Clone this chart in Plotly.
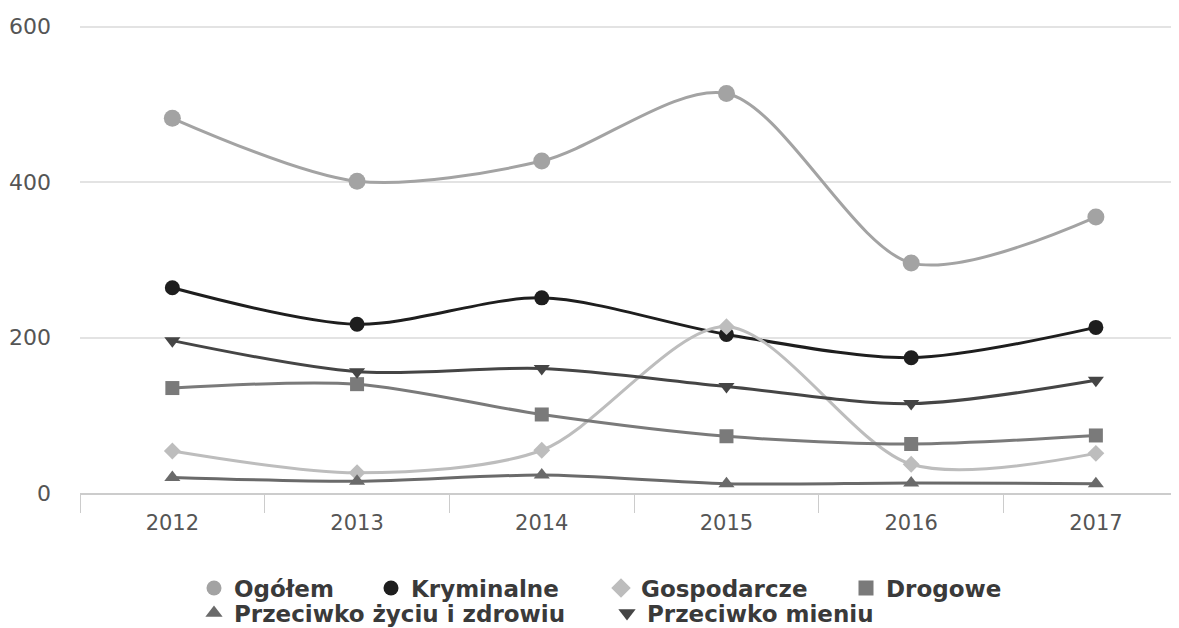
import plotly.graph_objects as go

years = ["2012", "2013", "2014", "2015", "2016", "2017"]
ogolem = [482, 401, 427, 514, 296, 355]
kryminalne = [264, 217, 251, 204, 174, 213]
gospodarcze = [54, 26, 55, 214, 37, 51]
drogowe = [135, 140, 101, 73, 63, 74]
zycie = [20, 15, 23, 12, 13, 12]
mienie = [196, 156, 160, 137, 115, 145]

series = [
    ("Ogółem", ogolem, "#a3a3a3", "circle", 17),
    ("Kryminalne", kryminalne, "#1e1e1e", "circle", 15),
    ("Gospodarcze", gospodarcze, "#bdbdbd", "diamond", 13),
    ("Drogowe", drogowe, "#7a7a7a", "square", 14),
    ("Przeciwko życiu i zdrowiu", zycie, "#6a6a6a", "triangle-up", 14),
    ("Przeciwko mieniu", mienie, "#454545", "triangle-down", 14),
]

# page body has an 8px margin, so the figure is drawn 8px in from the window edge
OFF = 8
W, H = 1179 - OFF, 628 - OFF
# legend item placement (symbol centre x, row centre y) in window pixels
legend_pos = [(213, 588), (390, 588), (620, 588), (865, 588), (213, 613), (626, 613)]

fig = go.Figure()
for name, vals, color, sym, size in series:
    fig.add_trace(go.Scatter(
        x=years, y=vals, name=name, mode="lines+markers", showlegend=False,
        line=dict(color=color, width=3, shape="spline", smoothing=0.85),
        marker=dict(color=color, symbol=sym, size=size),
    ))

layout_legends = {}
for i, ((name, vals, color, sym, size), (lx, ly)) in enumerate(zip(series, legend_pos)):
    key = "legend" if i == 0 else f"legend{i + 1}"
    fig.add_trace(go.Scatter(
        x=[None], y=[None], name=name, mode="markers", legend=key,
        marker=dict(color=color, symbol=sym, size=15),
    ))
    layout_legends[key] = dict(
        orientation="h", xref="container", yref="container",
        x=(lx - OFF - 19) / W, xanchor="left",
        y=1 - (ly - OFF) / H, yanchor="middle",
        font=dict(family="DejaVu Sans", size=23, color="#3a3a3a", weight="bold"),
        bgcolor="rgba(0,0,0,0)", itemsizing="trace",
    )

fig.update_layout(
    width=W, height=H,
    margin=dict(l=80 - OFF, r=0, t=25 - OFF, b=135),
    paper_bgcolor="white", plot_bgcolor="white",
    font=dict(family="DejaVu Sans", color="#555555"),
    showlegend=True,
    **layout_legends,
)
fig.update_xaxes(
    type="category", range=[-0.5, 5.45], automargin=False,
    showgrid=False, zeroline=False,
    showline=True, linecolor="#cccccc", linewidth=1.5,
    ticks="outside", tickson="boundaries", ticklen=18, tickcolor="#cccccc",
    ticklabelstandoff=10,
    tickfont=dict(size=21, color="#555555"),
)
fig.update_yaxes(
    range=[0, 602], tickvals=[0, 200, 400, 600], automargin=False,
    showgrid=True, gridcolor="#e3e3e3", gridwidth=1.5,
    zeroline=False, showline=False,
    ticklabelstandoff=28,
    tickfont=dict(size=22, color="#555555"),
)

fig.write_html("out.html")
